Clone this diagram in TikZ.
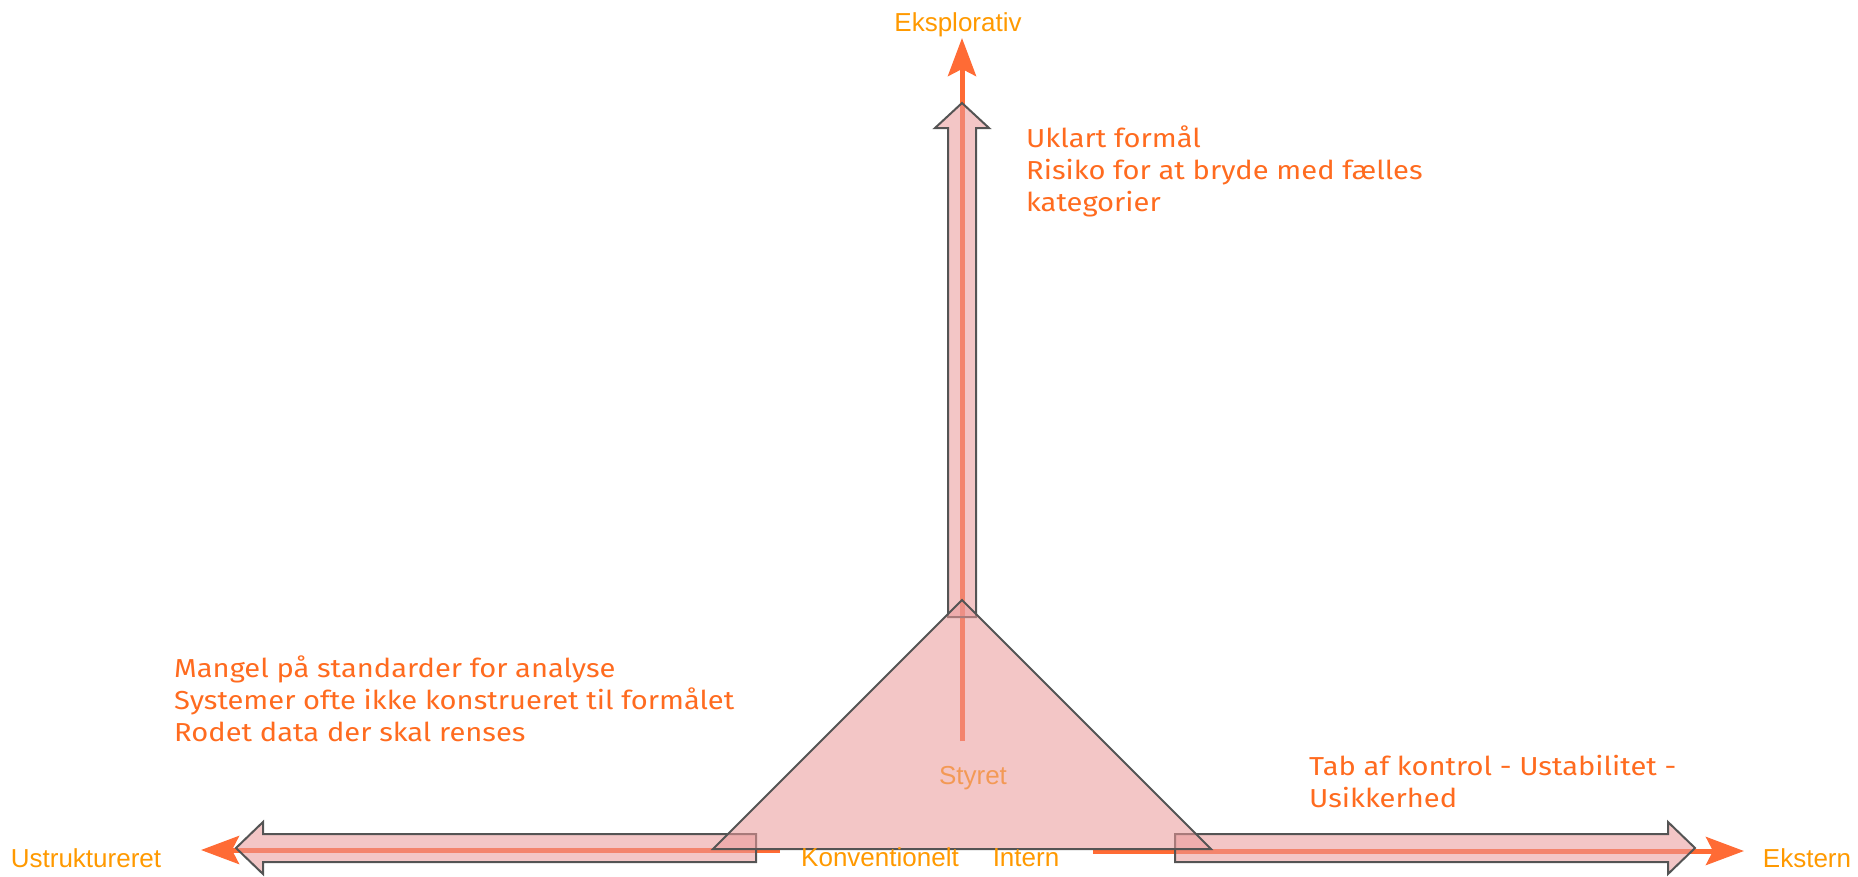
\documentclass[tikz,border=0pt]{standalone}
\usepackage{fontspec}
\setmainfont{Liberation Sans}
\newfontfamily\notefont[FakeStretch=1.12]{Fira Sans}
\usepackage{tikz}
\usetikzlibrary{arrows.meta}
\definecolor{amber}{HTML}{FF9900}
\definecolor{notecolor}{HTML}{FF6B1F}
\definecolor{axiscolor}{HTML}{FF6B35}
\definecolor{blockfill}{HTML}{EA9999}

\begin{document}
\begin{tikzpicture}[x=1pt,y=-1pt]
		\tikzset{
			axistip/.tip={Stealth[length=38pt, width=28pt, inset=7pt]},
			axisline/.style={draw=axiscolor, line width=5pt, -axistip},
			blockshape/.style={fill=blockfill, fill opacity=0.56, draw=black!67, line width=2pt, line join=miter},
			axislabel/.style={text=amber, font=\fontsize{26}{30}\selectfont, inner sep=0pt, anchor=base},
			notetext/.style={text=notecolor, font=\notefont\fontsize{26}{32}\selectfont, align=left, inner sep=0pt, anchor=north west},
		}
		\useasboundingbox (0,0) rectangle (1858,876);
		\coordinate (vlow) at (962,741);
		\coordinate (vtop) at (962,38);
		\coordinate (lstart) at (780,850);
		\coordinate (ltip) at (201,850);
		\coordinate (rstart) at (1093,851);
		\coordinate (rtip) at (1744,851);
		\node[axislabel] (styret) at (973,784) {Styret};
		\draw[axisline] (vlow) -- (vtop);
		\draw[axisline] (lstart) -- (ltip);
		\draw[axisline] (rstart) -- (rtip);
		\draw[blockshape] (948,617) |- (935,128) -- (962,103) -- (989,128) -| (976,617) -- cycle;
		\draw[blockshape] (756,834) -| (263,822) -- (236,848) -- (263,874) |- (756,862) -- cycle;
		\draw[blockshape] (1175,834) -| (1668,822) -- (1695,848) -- (1668,874) |- (1175,862) -- cycle;
		\draw[blockshape] (962,600) -- (1211,849) -- (713,849) -- cycle;
		\node[axislabel] (eksplorativ) at (958,31) {Eksplorativ};
		\node[axislabel] (ustruktureret) at (86,867) {Ustruktureret};
		\node[axislabel] (ekstern) at (1807,867) {Ekstern};
		\node[axislabel] (konventionelt) at (880,866) {Konventionelt};
		\node[axislabel] (intern) at (1026,866) {Intern};
		\node[notetext] (unclear) at (1026,126) {Uklart formål\\Risiko for at bryde med fælles\\kategorier};
		\node[notetext] (lack) at (174,656) {Mangel på standarder for analyse\\Systemer ofte ikke konstrueret til formålet\\Rodet data der skal renses};
		\node[notetext] (loss) at (1309,755) {Tab af kontrol - Ustabilitet -\\Usikkerhed};
	\end{tikzpicture}
\end{document}
